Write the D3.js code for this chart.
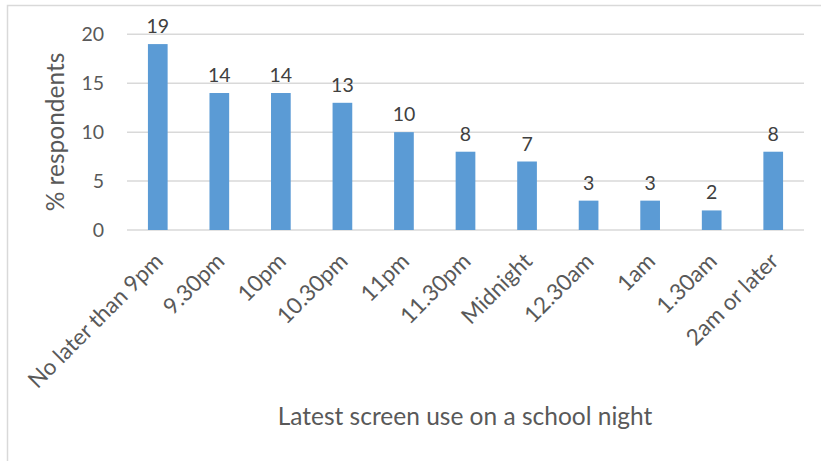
<!DOCTYPE html>
<html>
<head>
<meta charset="utf-8">
<script src="https://cdn.jsdelivr.net/npm/d3@7"></script>
<style>
  body { margin: 0; background: #fff; }
  text { font-family: Lato, "Open Sans", sans-serif; }
</style>
</head>
<body>
<script>
var categories = ["No later than 9pm", "9.30pm", "10pm", "10.30pm", "11pm", "11.30pm",
  "Midnight", "12.30am", "1am", "1.30am", "2am or later"];
var values = [19, 14, 14, 13, 10, 8, 7, 3, 3, 2, 8];
var yTicks = [0, 5, 10, 15, 20];

var width = 821,
  height = 461,
  plotLeft = 127,
  plotRight = 804,
  plotTop = 34.3,
  plotBottom = 230;

var svg = d3
  .select("body")
  .append("svg")
  .attr("width", width)
  .attr("height", height);

// outer chart frame
svg
  .append("rect")
  .attr("x", 7.5)
  .attr("y", 5.5)
  .attr("width", 830)
  .attr("height", 480)
  .attr("fill", "none")
  .attr("stroke", "#d9d9d9")
  .attr("stroke-width", 1.5);

var xScale = d3
  .scaleBand()
  .domain(categories)
  .range([plotLeft, plotRight])
  .paddingInner(0.68)
  .paddingOuter(0.34);

var yScale = d3.scaleLinear().domain([0, 20]).range([plotBottom, plotTop]);

// gridlines
svg
  .append("g")
  .selectAll("line")
  .data(yTicks)
  .enter()
  .append("line")
  .attr("x1", plotLeft)
  .attr("x2", plotRight)
  .attr("y1", (d) => yScale(d))
  .attr("y2", (d) => yScale(d))
  .attr("stroke", "#d9d9d9")
  .attr("stroke-width", 1.5);

var yAxis = d3.axisLeft(yScale).tickValues(yTicks).tickSize(0).tickPadding(23);
svg
  .append("g")
  .attr("transform", `translate(${plotLeft},0)`)
  .call(yAxis)
  .call((g) => g.select(".domain").remove())
  .selectAll("text")
  .attr("font-size", 19.5)
  .attr("font-family", "Lato")
  .attr("fill", "#595959");

svg
  .append("g")
  .selectAll("rect")
  .data(values)
  .enter()
  .append("rect")
  .attr("x", (d, i) => xScale(categories[i]))
  .attr("y", (d) => yScale(d))
  .attr("width", xScale.bandwidth())
  .attr("height", (d) => plotBottom - yScale(d))
  .attr("fill", "#5b9bd5");

// data labels
svg
  .append("g")
  .selectAll("text")
  .data(values)
  .enter()
  .append("text")
  .attr("x", (d, i) => xScale(categories[i]) + xScale.bandwidth() / 2)
  .attr("y", (d) => yScale(d) - 11)
  .attr("text-anchor", "middle")
  .attr("font-size", 19.5)
  .attr("fill", "#404040")
  .text((d) => d);

// category labels
svg
  .append("g")
  .selectAll("text")
  .data(categories)
  .enter()
  .append("text")
  .attr("transform", (d) =>
    `translate(${xScale(d) + xScale.bandwidth() / 2 + 1},257) rotate(-45)`)
  .attr("text-anchor", "end")
  .attr("dy", "0.35em")
  .attr("font-size", 22.5)
  .attr("fill", "#595959")
  .text((d) => d);

svg
  .append("text")
  .attr("x", 465)
  .attr("y", 425)
  .attr("text-anchor", "middle")
  .attr("font-size", 24.5)
  .attr("fill", "#595959")
  .text("Latest screen use on a school night");

svg
  .append("text")
  .attr("transform", "translate(64,132) rotate(-90)")
  .attr("text-anchor", "middle")
  .attr("font-size", 24.5)
  .attr("fill", "#595959")
  .text("% respondents");
</script>
</body>
</html>
